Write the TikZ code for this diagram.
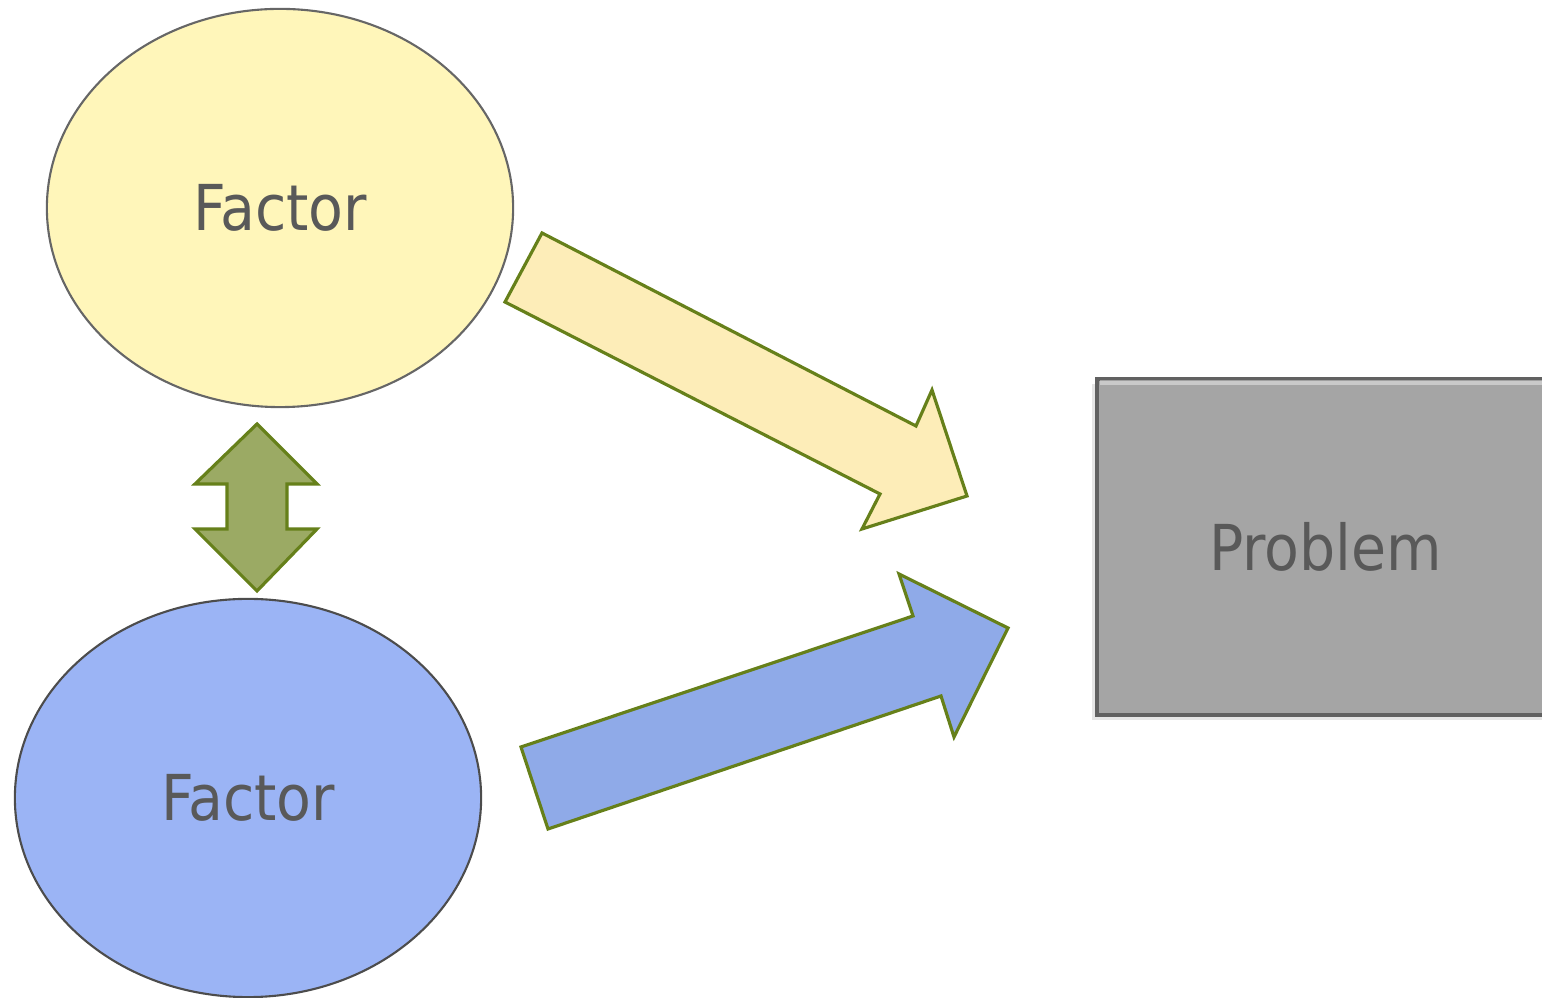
\documentclass[tikz,border=0pt]{standalone}
\usepackage{fontspec}
\setmainfont{DejaVu Sans Condensed}
\usetikzlibrary{shapes.geometric, shadows, calc}
\definecolor{txtgray}{HTML}{595959}
\definecolor{olive}{HTML}{66801A}
\definecolor{yellowfill}{HTML}{FFF6BA}
\definecolor{bluefill}{HTML}{9BB4F5}
\definecolor{yarrow}{HTML}{FDEDB8}
\definecolor{barrow}{HTML}{8FAAE8}
\definecolor{greenfill}{HTML}{9BAA64}
\definecolor{boxgray}{HTML}{A5A5A5}
\tikzstyle{factor} = [ellipse, minimum width=4.66cm, minimum height=3.98cm, draw=black!60, line width=0.6pt, text=txtgray, font=\fontsize{18}{20}\selectfont]
\tikzstyle{problem} = [rectangle, minimum width=4.58cm, minimum height=3.35cm, draw=black!62, line width=1.1pt, fill=boxgray, text=txtgray, font=\fontsize{18}{20}\selectfont, drop shadow={opacity=0.2, shadow xshift=-0.05cm, shadow yshift=-0.05cm}]
\tikzstyle{blockarrow} = [draw=olive, line width=0.9pt, line join=miter]

\begin{document}
\begin{tikzpicture}[x=0.01cm, y=-0.01cm]
    \useasboundingbox (0,0) rectangle (1542,998);
    \node (f1) [factor, fill=yellowfill] at (280,208) {Factor};
    \node (f2) [factor, fill=bluefill, draw=black!70] at (248,798) {Factor};
    \node (prob) [problem] at (1326,547) {Problem};

    % light rim on the box
    \draw [white, opacity=0.4, line width=1.2pt] ($(prob.north west)+(0.05cm,-0.05cm)$) -- ($(prob.north east)+(-0.05cm,-0.05cm)$);

    % block arrows
    \draw [blockarrow, fill=yarrow] (542,233) -- (916,426) -- (932,390) -- (967,496) -- (862,529) -- (880,494) -- (505,302) -- cycle;
    \draw [blockarrow, fill=barrow] (521,747) -- (913,616) -- (899,574) -- (1008,628) -- (954,737) -- (941,696) -- (548,829) -- cycle;
    \draw [blockarrow, fill=greenfill] (257,424) -- (317,484) -- (287,484) -- (287,529) -- (317,529) -- (257,591) -- (195,529) -- (227,529) -- (227,484) -- (195,484) -- cycle;
\end{tikzpicture}
\end{document}
